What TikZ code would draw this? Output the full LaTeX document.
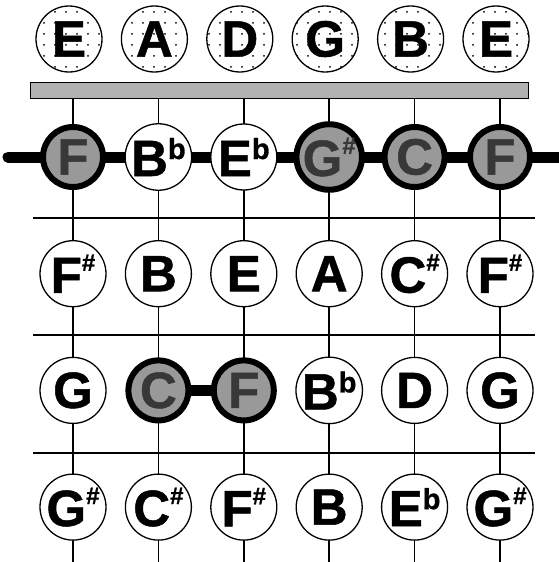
\documentclass[tikz,border=0pt]{standalone}
\usepackage{fontspec}
\setmainfont{Liberation Sans}
\newfontfamily\notefont{Liberation Sans Bold}[FakeBold=1]
\usetikzlibrary{positioning, backgrounds, patterns.meta}
\newcommand{\sharpmark}{\raisebox{22pt}{\fontsize{24}{24}\selectfont\#}}
\newcommand{\flatmark}{\raisebox{17pt}{\fontsize{29}{29}\selectfont b}}
\tikzset{
  opennote/.style={circle, draw=black, line width=1.3pt, pattern={Dots[distance=11pt, radius=1pt]}, minimum size=66pt, inner sep=0pt, outer sep=0pt, font=\fontsize{51}{51}\notefont},
  note/.style={circle, draw=black, fill=white, line width=1.3pt, minimum size=66pt, inner sep=0pt, outer sep=0pt, font=\fontsize{51}{51}\notefont},
  fingered/.style={circle, draw=black, fill=black!40, text=black!78, line width=6pt, minimum size=60pt, inner sep=0pt, outer sep=0pt, font=\fontsize{51}{51}\notefont},
  nutbar/.style={rectangle, draw=black, fill=black!30, line width=1pt, minimum width=498pt, minimum height=16pt},
  guitarstring/.style={line width=1.6pt},
  fretline/.style={line width=2.5pt},
  barre/.style={line width=11pt, line cap=round}
}
\begin{document}
\begin{tikzpicture}[x=1pt, y=1pt, node distance=116.7pt and 85.4pt, on grid]
    \useasboundingbox (0,0) rectangle (558,-562);
    \coordinate (bottom) at (0,-562);
    \coordinate (barreL) at (8,-157);
    \coordinate (barreR) at (562,-157);

    % open strings and nut
    \node (open1) [opennote] at (69,-39) {E};
    \node (open2) [opennote, right=of open1] {A};
    \node (open3) [opennote, right=of open2] {D};
    \node (open4) [opennote, right=of open3] {G};
    \node (open5) [opennote, right=of open4] {B};
    \node (open6) [opennote, right=of open5] {E};
    \node (nut) [nutbar] at (279,-90) {};

    % fret 1
    \node (f1s1) [fingered] at (73,-157) {F};
    \node (f1s2) [note, right=of f1s1] {B\flatmark};
    \node (f1s3) [note, right=of f1s2] {E\flatmark};
    \node (f1s4) [fingered, right=of f1s3] {G\sharpmark};
    \node (f1s5) [fingered, right=of f1s4] {C};
    \node (f1s6) [fingered, right=of f1s5] {F};

    % fret 2
    \node (f2s1) [note, below=of f1s1] {F\sharpmark};
    \node (f2s2) [note, right=of f2s1] {B};
    \node (f2s3) [note, right=of f2s2] {E};
    \node (f2s4) [note, right=of f2s3] {A};
    \node (f2s5) [note, right=of f2s4] {C\sharpmark};
    \node (f2s6) [note, right=of f2s5] {F\sharpmark};

    % fret 3
    \node (f3s1) [note, below=of f2s1] {G};
    \node (f3s2) [fingered, right=of f3s1] {C};
    \node (f3s3) [fingered, right=of f3s2] {F};
    \node (f3s4) [note, right=of f3s3] {B\flatmark};
    \node (f3s5) [note, right=of f3s4] {D};
    \node (f3s6) [note, right=of f3s5] {G};

    % fret 4
    \node (f4s1) [note, below=of f3s1] {G\sharpmark};
    \node (f4s2) [note, right=of f4s1] {C\sharpmark};
    \node (f4s3) [note, right=of f4s2] {F\sharpmark};
    \node (f4s4) [note, right=of f4s3] {B};
    \node (f4s5) [note, right=of f4s4] {E\flatmark};
    \node (f4s6) [note, right=of f4s5] {G\sharpmark};

    \begin{scope}[on background layer]
        \draw [guitarstring] (f1s1 |- nut.south) -- (f1s1 |- bottom);
        \draw [guitarstring] (f1s2 |- nut.south) -- (f1s2 |- bottom);
        \draw [guitarstring] (f1s3 |- nut.south) -- (f1s3 |- bottom);
        \draw [guitarstring] (f1s4 |- nut.south) -- (f1s4 |- bottom);
        \draw [guitarstring] (f1s5 |- nut.south) -- (f1s5 |- bottom);
        \draw [guitarstring] (f1s6 |- nut.south) -- (f1s6 |- bottom);
        % frets
        \draw [fretline] (33,-218) -- (535,-218);
        \draw [fretline] (33,-335) -- (535,-335);
        \draw [fretline] (33,-453) -- (535,-453);
        % barres
        \draw [barre] (barreL) -- (barreR);
        \draw [barre] (f3s2) -- (f3s3);
    \end{scope}
\end{tikzpicture}
\end{document}
